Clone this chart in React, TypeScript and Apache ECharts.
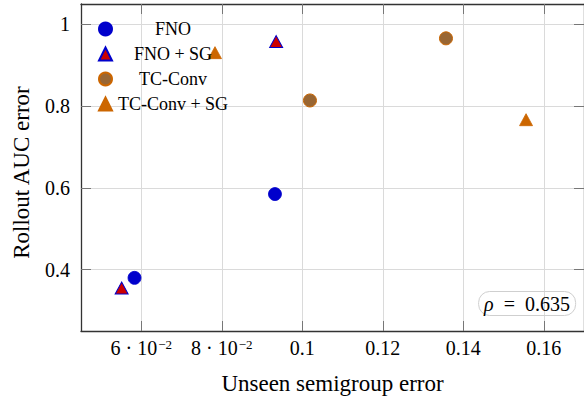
import React, { useEffect, useRef } from 'react';
import * as echarts from 'echarts';

const seriesNames = ['FNO', 'FNO + SG', 'TC-Conv', 'TC-Conv + SG'];
const fnoX = [0.0583, 0.0932];
const fnoY = [0.38, 0.585];
const fnoSgX = [0.0551, 0.0935];
const fnoSgY = [0.355, 0.958];
const tcConvX = [0.1019, 0.1357];
const tcConvY = [0.814, 0.966];
const tcConvSgX = [0.0783, 0.1556];
const tcConvSgY = [0.931, 0.767];
const xTicks = [0.06, 0.08, 0.1, 0.12, 0.14, 0.16];
const yTicks = [0.4, 0.6, 0.8, 1.0];
const rhoValue = '0.635';
const xTitle = 'Unseen semigroup error';
const yTitle = 'Rollout AUC error';

export default function App() {
  const ref = useRef<HTMLDivElement>(null);
  useEffect(() => {
    const chart = echarts.init(ref.current!, null, { renderer: 'svg' });
    const font = "'Liberation Serif', 'Times New Roman', serif";
    const blue = '#0000cc';
    const red = '#cc0000';
    const brown = '#996633';
    const orange = '#cc6600';
    const axisLineStyle = { color: '#333', width: 1.3 };
    const tickStyle = { color: '#777', width: 1 };
    const pts = (x: number[], y: number[]) => x.map((v, i) => [v, y[i]]);
    const fmtX = (v: number) => {
      if (v < 0.095) {
        return `{m|${Math.round(v * 100)} · 10}{s|−2}`;
      }
      return `{p|${+v.toFixed(2)}}`;
    };
    chart.setOption({
      animation: false,
      textStyle: { fontFamily: font },
      grid: { left: 81, right: -1, top: 4, bottom: 67 },
      title: {
        text: `{i|ρ}\u2002=\u2002${rhoValue}`,
        right: 8,
        top: 291,
        padding: [1, 6],
        borderColor: '#cfcfcf',
        borderWidth: 1,
        borderRadius: 11,
        textStyle: {
          fontFamily: font,
          fontSize: 20,
          fontWeight: 'normal',
          color: '#000',
          lineHeight: 23,
          rich: {
            i: { fontStyle: 'italic', fontFamily: font, fontSize: 20, lineHeight: 23, color: '#000' },
          },
        },
      },
      legend: {
        orient: 'vertical',
        left: 98,
        top: 20,
        padding: 0,
        itemWidth: 13,
        itemHeight: 13,
        itemGap: 7,
        selectedMode: false,
        data: seriesNames,
        formatter: (n: string) => `{c|${n}}`,
        textStyle: {
          fontFamily: font,
          fontSize: 18,
          color: '#000',
          rich: {
            c: { width: 112, align: 'center', fontSize: 18, lineHeight: 20, fontFamily: font, color: '#000' },
          },
        },
      },
      xAxis: [
        {
          type: 'value',
          min: 0.045,
          max: 0.17,
          position: 'bottom',
          name: xTitle,
          nameLocation: 'middle',
          nameGap: 41,
          nameTextStyle: { fontFamily: font, fontSize: 23, color: '#000' },
          axisLine: { show: true, onZero: false, lineStyle: axisLineStyle },
          axisTick: { show: true, inside: true, length: 10, customValues: xTicks, lineStyle: tickStyle },
          axisLabel: {
            customValues: xTicks,
            margin: 7,
            formatter: fmtX,
            color: '#000',
            fontFamily: font,
            fontSize: 20,
            rich: {
              p: { fontSize: 20, lineHeight: 20, fontFamily: font, color: '#000' },
              m: { fontSize: 20, lineHeight: 20, verticalAlign: 'bottom', fontFamily: font, color: '#000' },
              s: { fontSize: 13, lineHeight: 14, padding: [0, 0, 11, 1], verticalAlign: 'top', fontFamily: font, color: '#000' },
            },
          },
          splitLine: { show: true, lineStyle: { color: '#dadada', width: 1 } },
        },
        {
          type: 'value',
          min: 0.045,
          max: 0.17,
          position: 'top',
          axisLine: { show: true, onZero: false, lineStyle: axisLineStyle },
          axisTick: { show: true, inside: true, length: 10, customValues: xTicks, lineStyle: tickStyle },
          axisLabel: { show: false },
          splitLine: { show: false },
        },
      ],
      yAxis: [
        {
          type: 'value',
          min: 0.25,
          max: 1.05,
          position: 'left',
          name: yTitle,
          nameLocation: 'middle',
          nameGap: 48,
          nameTextStyle: { fontFamily: font, fontSize: 23, color: '#000', padding: [0, 10, 0, 0] },
          axisLine: { show: true, onZero: false, lineStyle: axisLineStyle },
          axisTick: { show: true, inside: true, length: 10, customValues: yTicks, lineStyle: tickStyle },
          axisLabel: {
            customValues: yTicks,
            margin: 11,
            formatter: (v: number) => String(+v.toFixed(2)),
            color: '#000',
            fontFamily: font,
            fontSize: 20,
          },
          splitLine: { show: true, lineStyle: { color: '#dadada', width: 1 } },
        },
        {
          type: 'value',
          min: 0.25,
          max: 1.05,
          position: 'right',
          axisLine: { show: true, onZero: false, lineStyle: axisLineStyle },
          axisTick: { show: true, inside: true, length: 10, customValues: yTicks, lineStyle: tickStyle },
          axisLabel: { show: false },
          splitLine: { show: false },
        },
      ],
      series: [
        {
          name: seriesNames[0],
          type: 'scatter',
          symbol: 'circle',
          symbolSize: 13,
          itemStyle: { color: blue, borderColor: blue, borderWidth: 0.8, opacity: 1 },
          data: pts(fnoX, fnoY),
        },
        {
          name: seriesNames[1],
          type: 'scatter',
          symbol: 'triangle',
          symbolSize: [13, 12],
          itemStyle: { color: red, borderColor: blue, borderWidth: 1, opacity: 1 },
          data: pts(fnoSgX, fnoSgY),
        },
        {
          name: seriesNames[2],
          type: 'scatter',
          symbol: 'circle',
          symbolSize: 13,
          itemStyle: { color: brown, borderColor: orange, borderWidth: 1, opacity: 1 },
          data: pts(tcConvX, tcConvY),
        },
        {
          name: seriesNames[3],
          type: 'scatter',
          symbol: 'triangle',
          symbolSize: [13, 12],
          itemStyle: { color: orange, borderColor: orange, borderWidth: 0.8, opacity: 1 },
          data: pts(tcConvSgX, tcConvSgY),
        },
      ],
    });
    return () => chart.dispose();
  }, []);
  return (
    <div
      ref={ref}
      style={{ position: 'fixed', left: 0, top: 0, width: 584, height: 400, background: '#fff' }}
    />
  );
}
